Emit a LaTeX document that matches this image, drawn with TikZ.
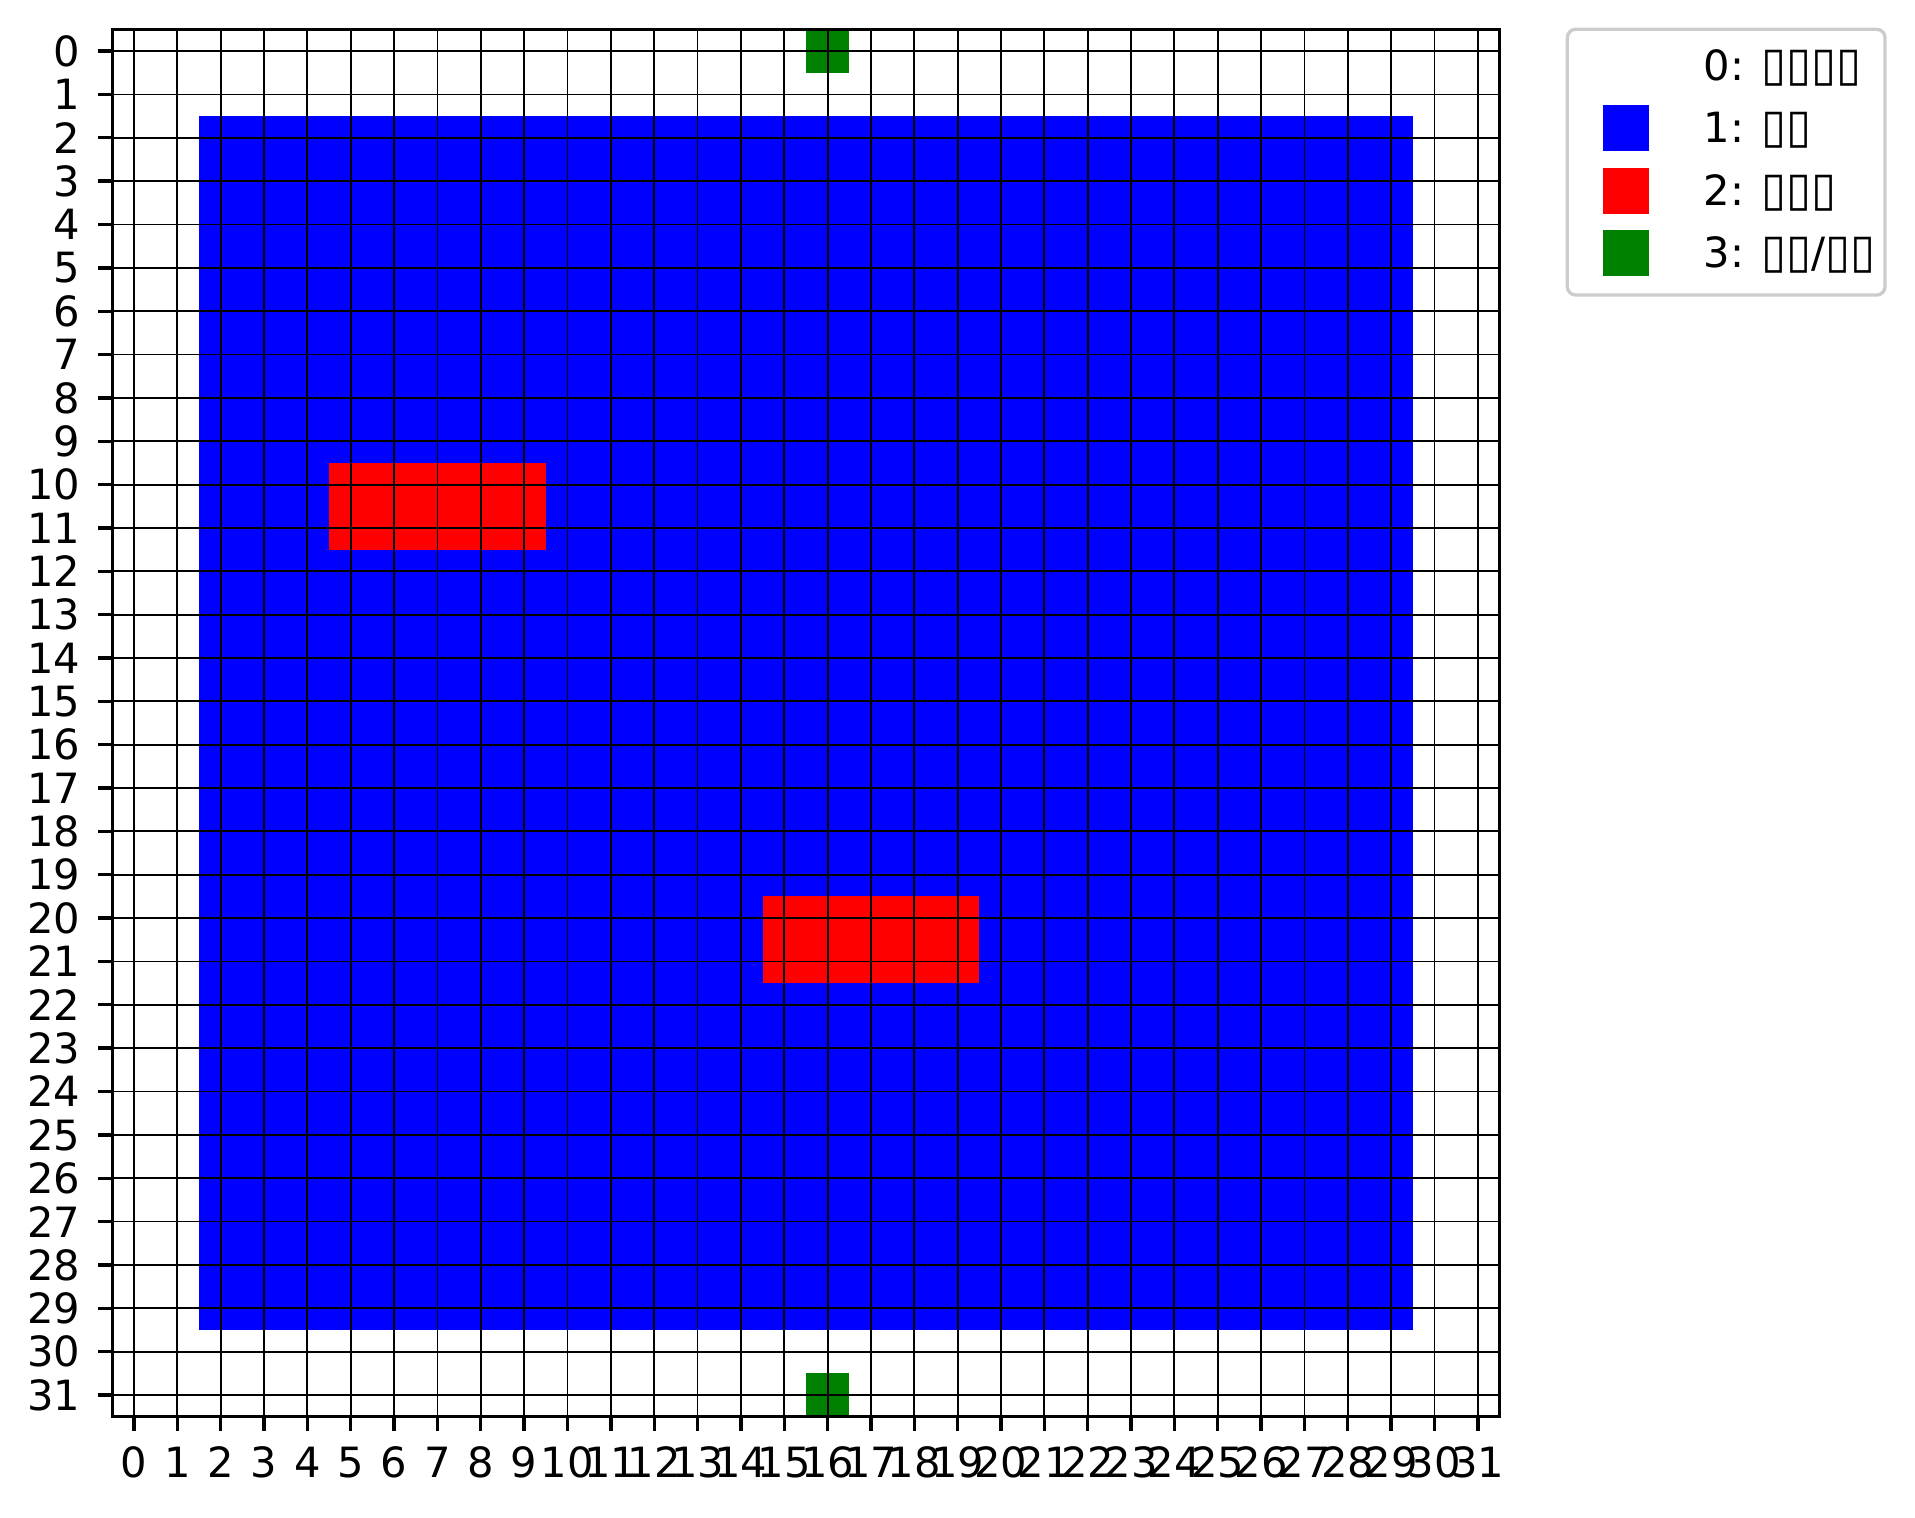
\documentclass[tikz,border=0pt]{standalone}
\usepackage{fontspec}
\usepackage{graphicx}
\setmainfont{DejaVu Sans}
\usetikzlibrary{positioning}
\definecolor{legendEdge}{gray}{0.8}
\definecolor{doorGreen}{HTML}{008000}
\def\lo{-0.5}
\def\hi{31.5}
% missing-glyph box, as the legend prints it
\newcommand\tofu{\resizebox*{6.0pt}{8.64pt}{▯}}

\begin{document}
\begin{tikzpicture}[
    x=0.24pt, y=-0.24pt,
    every node/.style={font=\fontsize{10pt}{12pt}\selectfont, inner sep=0pt},
    cellgrid/.style={line width=0.45pt, draw=black},
    spine/.style={line width=0.8pt, draw=black},
    tickmark/.style={line width=0.8pt, draw=black},
    legendbox/.style={draw=legendEdge, line width=0.8pt, fill=white,
                      rounded corners=2pt},
    ]

\useasboundingbox (0,0) rectangle (1915,1517);

% ====================================================================
% Grid map (one unit = one cell)
% ====================================================================
\begin{scope}[shift={(134,51.1)}, x=10.404pt, y=-10.404pt]

% Cells
\fill[blue] (1.5,1.5) rectangle (29.5,29.5);
\fill[red] (4.5,9.5) rectangle (9.5,11.5);
\fill[red] (14.5,19.5) rectangle (19.5,21.5);
\fill[doorGreen] (15.5,\lo) rectangle (16.5,0.5);
\fill[doorGreen] (15.5,30.5) rectangle (16.5,\hi);

% Grid lines, ticks and tick labels
\foreach \i in {0,...,31} {
  \draw[cellgrid] (\i,\lo) -- (\i,\hi);
  \draw[cellgrid] (\lo,\i) -- (\hi,\i);
  \draw[tickmark] (\i,\hi) -- (\i,31.837);
  \draw[tickmark] (\lo,\i) -- (-0.837,\i);
  \node[anchor=north] (xl\i) at (\i,32.18) {\i};
  \node[anchor=east] (yl\i) at (-1.22,\i) {\i};
}

% Axes frame
\draw[spine] (\lo,\lo) rectangle (\hi,\hi);

\end{scope}

% ====================================================================
% Legend
% ====================================================================
\draw[legendbox] (1567.3,29.3) rectangle (1885,295);

\fill[blue] (1602.7,105) rectangle (1649,151);
\fill[red] (1602.7,167.7) rectangle (1649,213.7);
\fill[doorGreen] (1602.7,230) rectangle (1649,276);

\node[anchor=base west] (lg0) at (1702.7,80) {0: \tofu\tofu\tofu\tofu};
\node[anchor=base west] (lg1) at (1702.7,142.5) {1: \tofu\tofu};
\node[anchor=base west] (lg2) at (1702.7,205) {2: \tofu\tofu\tofu};
\node[anchor=base west] (lg3) at (1702.7,267.5) {3: \tofu\tofu/\tofu\tofu};

\end{tikzpicture}
\end{document}
